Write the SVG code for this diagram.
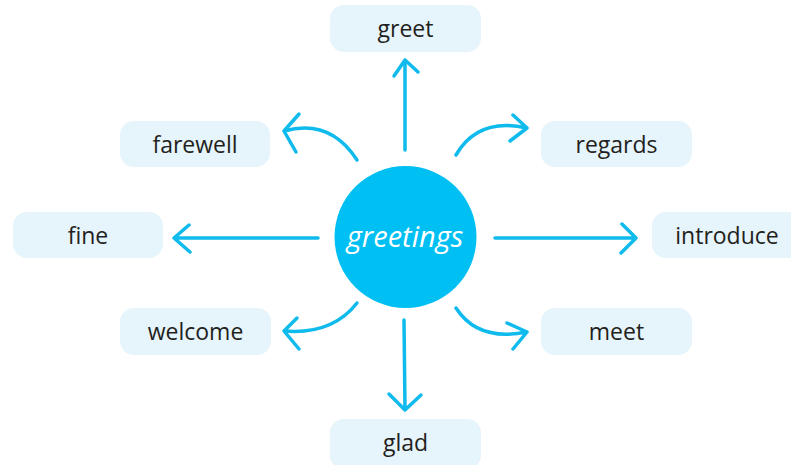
<svg xmlns="http://www.w3.org/2000/svg" width="791" height="465" viewBox="0 0 791 465">
<style>
.box{fill:#e6f4fb;}
.lbl{font-family:"Open Sans","Liberation Sans",sans-serif;font-size:23px;fill:#231f20;text-anchor:middle;}
.ctr{font-family:"Open Sans","Liberation Sans",sans-serif;font-size:29px;font-style:italic;fill:#ffffff;text-anchor:middle;}
.arr{fill:none;stroke:#0fbaec;stroke-width:3.5;stroke-linecap:round;stroke-linejoin:round;}
</style>
<rect width="791" height="465" fill="#ffffff"/>
<g id="connectors">
  <path class="arr" d="M405,150 L405,60 M394,76 L405,60 L418,72"/>
  <path class="arr" d="M404,320 L405,410 M389,394 L405,410 L421,395"/>
  <path class="arr" d="M318,238 L174,238 M189,225 L174,238 L190,252"/>
  <path class="arr" d="M495,238 L636,238 M622,224 L636,238 L621,253"/>
  <path class="arr" d="M357,160 Q330,118 284,131 M299,114 L284,131 L296,152"/>
  <path class="arr" d="M456,155 Q478,117 527,128 M513,115 L527,128 L510,141"/>
  <path class="arr" d="M357,303 Q332,335 284,331 M297,318 L284,331 L299,349"/>
  <path class="arr" d="M456,308 Q478,342 527,332 M507,323 L527,332 L513,349"/>
</g>
<g id="center">
  <circle cx="405.5" cy="237" r="71" fill="#00bff3"/>
  <text class="ctr" x="405" y="247">greetings</text>
</g>
<g id="greet"><rect class="box" x="330" y="5" width="151" height="47" rx="14"/><text class="lbl" x="405.5" y="37">greet</text></g>
<g id="farewell"><rect class="box" x="120" y="121" width="150" height="46" rx="14"/><text class="lbl" x="195" y="153">farewell</text></g>
<g id="regards"><rect class="box" x="541" y="121" width="151" height="46" rx="14"/><text class="lbl" x="616.5" y="153">regards</text></g>
<g id="fine"><rect class="box" x="13" y="212" width="150" height="46" rx="14"/><text class="lbl" x="88" y="244">fine</text></g>
<g id="introduce"><rect class="box" x="652" y="212" width="151" height="46" rx="14"/><text class="lbl" x="727" y="244">introduce</text></g>
<g id="welcome"><rect class="box" x="120" y="308" width="151" height="47" rx="14"/><text class="lbl" x="195.5" y="340">welcome</text></g>
<g id="meet"><rect class="box" x="541" y="308" width="151" height="47" rx="14"/><text class="lbl" x="616.5" y="340">meet</text></g>
<g id="glad"><rect class="box" x="330" y="419" width="151" height="50" rx="14"/><text class="lbl" x="405.5" y="451">glad</text></g>
</svg>
